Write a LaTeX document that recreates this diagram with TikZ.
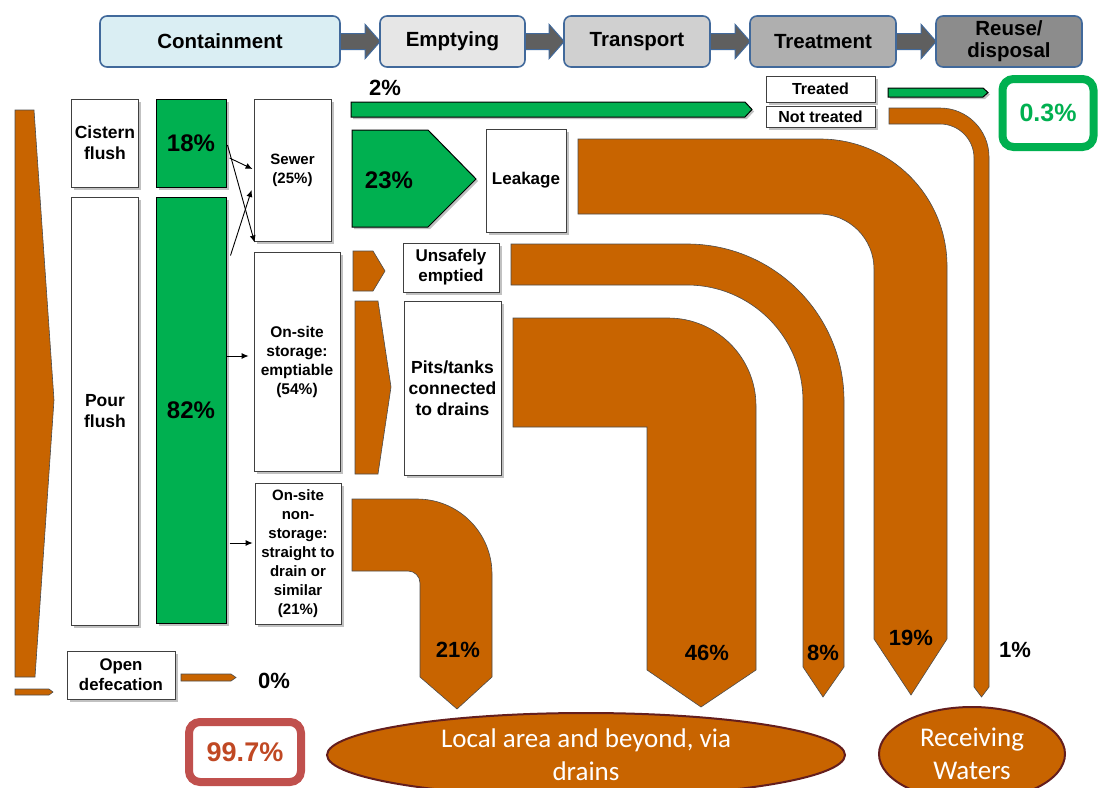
\documentclass[tikz,border=0pt]{standalone}
\usepackage{fontspec}
\setmainfont{Liberation Sans}
\newfontfamily\poolfont{Carlito}
\usetikzlibrary{arrows.meta,shadows,calc,backgrounds,shapes.geometric}

\definecolor{sfdbrown}{RGB}{200,100,0}
\definecolor{sfdgreen}{RGB}{0,176,80}
\definecolor{stageline}{RGB}{65,105,155}
\definecolor{stagegray}{RGB}{95,95,95}
\definecolor{sfdred}{RGB}{192,80,77}
\definecolor{sfdredtext}{RGB}{192,72,35}
\definecolor{poolline}{RGB}{100,30,30}

\newcommand\stagelink[2]{%
	\draw[stagearrow] ($(#1.east)+(-3,-8)$) -- ($(#2.west)+(-14,-8)$) -- ($(#2.west)+(-14,-17)$) -- ($(#2.west)+(1,0)$)
		-- ($(#2.west)+(-14,17)$) -- ($(#2.west)+(-14,8)$) -- ($(#1.east)+(-3,8)$) -- cycle;}

\begin{document}
\begin{tikzpicture}[x=1pt,y=-1pt,
	stage/.style={draw=stageline, line width=1.6pt, rounded corners=7pt, inner sep=0pt, align=center,
		font=\bfseries\fontsize{20.5}{22}\selectfont},
	stagearrow/.style={fill=stagegray, draw=stageline, line width=1pt},
	box/.style={draw=black!75, fill=white, line width=0.8pt, inner sep=0pt, align=center,
		font=\bfseries\fontsize{17.5}{21}\selectfont,
		drop shadow={shadow xshift=2.5pt, shadow yshift=-2.5pt, opacity=.35, fill=black!70}},
	small/.style={font=\bfseries\fontsize{15}{19}\selectfont},
	gbox/.style={draw=black, fill=sfdgreen, line width=1pt, inner sep=0pt,
		font=\bfseries\fontsize{24}{28}\selectfont,
		drop shadow={shadow xshift=2.5pt, shadow yshift=-2.5pt, opacity=.35, fill=black!70}},
	flow/.style={fill=sfdbrown, draw=black!70, line width=0.6pt},
	gflow/.style={fill=sfdgreen, draw=black, line width=1pt,
		drop shadow={shadow xshift=2pt, shadow yshift=-2pt, opacity=.35, fill=black!70}},
	pct/.style={font=\bfseries\fontsize{22}{26}\selectfont, inner sep=0pt},
	link/.style={-{Latex[length=7pt,width=6pt]}, line width=0.9pt},
	pool/.style={ellipse, fill=sfdbrown, draw=poolline, line width=2pt, text=white, inner sep=0pt,
		align=center, font=\poolfont\fontsize{27}{33}\selectfont},
	total/.style={fill=white, rounded corners=11pt, line width=8pt, inner sep=0pt,
		font=\bfseries\fontsize{27}{30}\selectfont}]

	\useasboundingbox (0,0) rectangle (1099,787);
	\clip (0,0) rectangle (1099,787);

	\node [stage, fill={rgb,255:red,218;green,238;blue,243}, minimum width=240pt, minimum height=51pt] (cont) at (220,41.5) {Containment};
	\node [stage, fill={rgb,255:red,230;green,230;blue,230}, minimum width=145pt, minimum height=51pt] (empt) at (452.5,41.5) {Emptying};
	\node [stage, fill={rgb,255:red,208;green,208;blue,208}, minimum width=146pt, minimum height=51pt] (trans) at (637,41.5) {Transport};
	\node [stage, fill={rgb,255:red,175;green,175;blue,175}, minimum width=146pt, minimum height=51pt] (treat) at (823,41.5) {Treatment};
	\node [stage, fill={rgb,255:red,140;green,140;blue,140}, minimum width=146pt, minimum height=51pt] (reuse) at (1009,41.5) {Reuse/\\disposal};

	\begin{scope}[on background layer]
		\stagelink{cont}{empt}
		\stagelink{empt}{trans}
		\stagelink{trans}{treat}
		\stagelink{treat}{reuse}
	\end{scope}

	\draw [flow] (15,110) -- (34,110) -- (54,400) -- (35,677) -- (15,677) -- cycle;
	\draw [flow] (15,689) -- (49,689) -- (53,692) -- (49,695) -- (15,695) -- cycle;

	\node [box, minimum width=67pt, minimum height=88pt] (cistern) at (105,143) {Cistern\\flush};
	\node [box, minimum width=67pt, minimum height=428pt] (pour) at (105,411) {Pour\\flush};
	\node [gbox, minimum width=70pt, minimum height=88pt] (g18) at (191,143) {18\%};
	\node [gbox, minimum width=70pt, minimum height=426pt] (g82) at (191,410) {82\%};

	\node [box, small, minimum width=77pt, minimum height=142pt] (sewer) at (292.5,170) {Sewer\\(25\%)};
	\node [box, small, font=\bfseries\fontsize{15.5}{19}\selectfont, minimum width=86pt, minimum height=219pt] (storage) at (297,361.5) {On-site\\storage:\\emptiable\\(54\%)};
	\node [box, small, minimum width=86pt, minimum height=141pt] (nonstore) at (298,553.5) {On-site\\non-\\storage:\\straight to\\drain or\\similar\\(21\%)};
	\node [box, font=\bfseries\fontsize{16.8}{20}\selectfont, minimum width=108pt, minimum height=48pt] (opendef) at (121,675) {Open\\defecation};

	\draw [link] ($(g18.east)+(1,2)$) -- ($(sewer.south west)+(1,1)$);
	\draw [link] ($(g18.east)+(3,15)$) -- ($(sewer.west)+(-1,-1)$);
	\draw [link] ($(g82.north east)+(4,59)$) -- ($(sewer.west)+(-2,20)$);
	\draw [link] ($(g82.east)+(0,-54)$) -- ($(storage.west)+(-5,-5.5)$);
	\draw [link] ($(g82.east)+(3,133)$) -- ($(nonstore.west)+(-2,-10.5)$);

	\draw [flow] (181,674) -- (231,674) -- (236,677.5) -- (231,681) -- (181,681) -- cycle;
	\node [pct] (od) at (274,681) {0\%};

	\draw [gflow] (351,102) -- (745,102) -- (752,109.5) -- (745,117) -- (351,117) -- cycle;
	\node [pct] (sewtreat) at (385,88) {2\%};
	\draw [gflow] (352,130) -- (428,130) -- (476,179) -- (428,227) -- (352,227) -- cycle;
	\node [pct, font=\bfseries\fontsize{24}{28}\selectfont] (sewleak) at (389,180) {23\%};
	\draw [flow] (353,251) -- (373,251) -- (385,271) -- (373,291) -- (353,291) -- cycle;
	\draw [flow] (355,301) -- (378,301) -- (391,387) -- (378,474) -- (355,474) -- cycle;

	\node [box, font=\bfseries\fontsize{17}{21}\selectfont, minimum width=80pt, minimum height=103pt] (leak) at (526,180.5) {Leakage};
	\node [box, font=\bfseries\fontsize{17}{20}\selectfont, minimum width=96pt, minimum height=49pt] (unsafe) at (451,267.5) {Unsafely\\emptied};
	\node [box, minimum width=97pt, minimum height=174pt] (pits) at (452.5,388) {Pits/tanks\\connected\\to drains};

	\node [box, font=\bfseries\fontsize{16}{19}\selectfont, minimum width=109pt, minimum height=26pt] (treated) at (820.5,89) {Treated};
	\node [box, font=\bfseries\fontsize{16}{19}\selectfont, minimum width=109pt, minimum height=21pt] (nottreated) at (820.5,116.5) {Not treated};
	\draw [gflow] (888,88) -- (983,88) -- (988,92.5) -- (983,97) -- (888,97) -- cycle;

	\draw [flow] (578,139) -- (820,139) arc[start angle=-90, end angle=0, radius=127] -- (947,639) -- (911,695)
		-- (874,639) -- (874,269) arc[start angle=0, end angle=-90, radius=55] -- (578,214) -- cycle;
	\draw [flow] (511,244) -- (687,244) arc[start angle=-90, end angle=0, radius=157] -- (844,667) -- (823,697)
		-- (803,667) -- (803,401) arc[start angle=0, end angle=-90, radius=116] -- (511,285) -- cycle;
	\draw [flow] (513,318) -- (668,318) arc[start angle=-90, end angle=0, radius=88] -- (756,670) -- (701,707)
		-- (647,670) -- (647,427) -- (513,427) -- cycle;
	\draw [flow] (352,499) -- (417,499) arc[start angle=-90, end angle=0, radius=75] -- (492,677) -- (457,709)
		-- (420,677) -- (420,583) arc[start angle=0, end angle=-90, radius=12] -- (352,571) -- cycle;
	\draw [flow] (889,108) -- (940,108) arc[start angle=-90, end angle=0, radius=49] -- (989,687) -- (981.5,697)
		-- (974,687) -- (974,158) arc[start angle=0, end angle=-90, radius=34] -- (889,124) -- cycle;

	\node [pct] (p21) at (458,650) {21\%};
	\node [pct] (p46) at (707,653) {46\%};
	\node [pct] (p8) at (823,653) {8\%};
	\node [pct] (p19) at (911,638) {19\%};
	\node [pct] (p1) at (1015,650) {1\%};

	\node [pool, minimum width=518pt, minimum height=84pt] (local) at (586,755) {Local area and beyond, via\\drains};
	\node [pool, minimum width=186pt, minimum height=94pt] (waters) at (972,754) {Receiving\\Waters};

	\node [total, draw=sfdred, text=sfdredtext, minimum width=112pt, minimum height=60pt] (unsafetotal) at (245,752) {99.7\%};
	\node [total, draw=sfdgreen, text=sfdgreen, font=\bfseries\fontsize{25}{28}\selectfont, minimum width=91pt, minimum height=68pt] (safetotal) at (1048,113) {0.3\%};

\end{tikzpicture}
\end{document}
